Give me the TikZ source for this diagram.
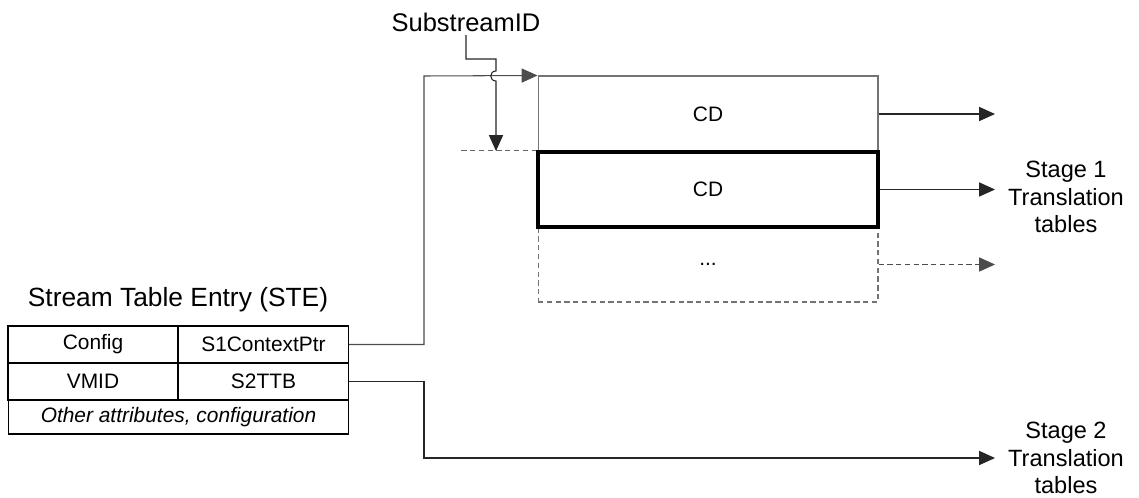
\documentclass[tikz,border=0pt]{standalone}
\usepackage{fontspec}
\setmainfont{Liberation Sans}
\usetikzlibrary{arrows.meta}

\begin{document}
\begin{tikzpicture}[x=0.02cm,y=-0.02cm]
\useasboundingbox (0,0) rectangle (1139,497);

\node[font=\fontsize{15}{18}\selectfont] (title) at (178,300) {Stream Table Entry (STE)};
\node[font=\fontsize{14.5}{17}\selectfont,inner sep=2pt] (sid) at (466,22) {SubstreamID};

\begin{scope}[every node/.style={draw,rectangle,inner sep=0pt,line width=0.6pt,
              minimum width=3.4cm,minimum height=0.74cm,font=\fontsize{11.9}{14}\selectfont}]
	\node (cfg) at (93,344.5) {Config};
	\node (s1) at (263.5,344.5) {S1ContextPtr};
	\node (vmid) at (93,381.5) {VMID};
	\node (s2) at (263.5,381.5) {S2TTB};
	\node[minimum width=6.82cm,minimum height=0.68cm,font=\fontsize{11.9}{14}\selectfont\itshape] (other) at (178.5,417) {Other attributes, configuration};
\end{scope}

\begin{scope}[every node/.style={rectangle,inner sep=0pt,minimum width=6.8cm,
              minimum height=1.5cm,font=\fontsize{11.9}{14}\selectfont}]
	\node[draw=black!55,line width=0.6pt,minimum height=1.52cm] (cd1) at (708,114) {CD};
	\node[draw=black!55,line width=0.6pt,dash pattern=on 3pt off 2pt] (cd3) at (708,264.5) {...};
	\node[draw=black,line width=2pt] (cd2) at (708,189.5) {CD};
\end{scope}

\begin{scope}[every node/.style={align=center,font=\fontsize{13.4}{15.6}\selectfont}]
	\node (st1) at (1066,197) {Stage 1\\Translation\\tables};
	\node (st2) at (1066,458) {Stage 2\\Translation\\tables};
\end{scope}

\coordinate (e1) at (995,114);
\coordinate (e2) at (995,189.5);
\coordinate (e3) at (995,264.5);
\coordinate (e4) at (995,458);
\coordinate (b1) at (424,76);
\coordinate (b2) at (424,458);
\coordinate (kink) at (496,59);
\coordinate (jt) at (496,71);
\coordinate (jb) at (496,81);
\coordinate (sidtip) at (496,151);
\coordinate (dash) at ([xshift=-1.5cm]cd2.north west);

\begin{scope}[>={Triangle[length=9pt,width=8pt]},
              every path/.style={line width=0.6pt}]
	\draw[->,black!85] (cd1.east) -- (e1);
	\draw[->,black!85] (cd2.east) -- (e2);
	\draw[->,black!70,dash pattern=on 3pt off 2pt] (cd3.east) -- (e3);
	\draw[->,black!70] (s1.east) -| (b1) -- (cd1.north west);
	\draw[->,black!85] (s2.east) -| (b2) -- (e4);
	\draw[black!60,dash pattern=on 3pt off 2pt] (dash) -- (cd2.north west);
	\draw[->,black!85] (sid.south) |- (kink) -- (jt) .. controls +(-7,0) and +(-7,0) .. (jb) -- (sidtip);
\end{scope}
\end{tikzpicture}
\end{document}
